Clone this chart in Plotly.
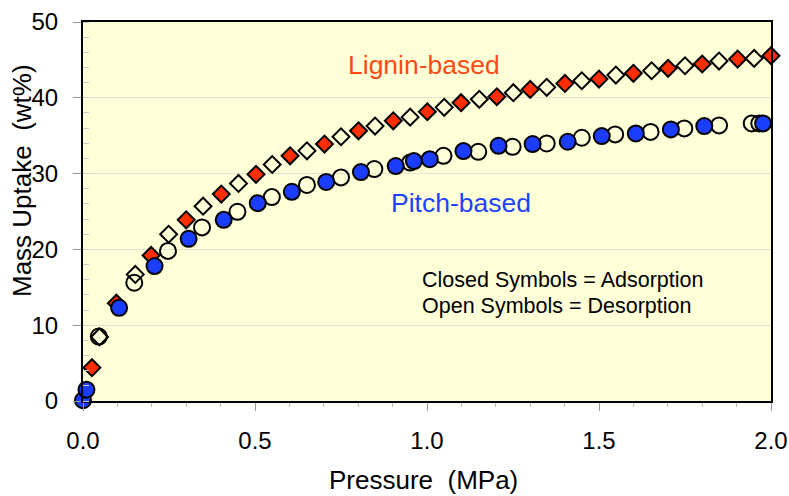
import plotly.graph_objects as go

# Lignin-based, adsorption (closed diamonds)
lig_ads_p = [0.026, 0.097, 0.198, 0.300, 0.402, 0.503, 0.602, 0.702, 0.801, 0.902, 1.001, 1.099, 1.203, 1.300, 1.401, 1.500, 1.600, 1.701, 1.800, 1.903, 2.0]
lig_ads_u = [4.4, 12.9, 19.2, 23.9, 27.3, 29.9, 32.35, 33.9, 35.65, 36.97, 38.16, 39.35, 40.14, 41.11, 41.9, 42.47, 43.23, 43.89, 44.46, 45.11, 45.55]
# Lignin-based, desorption (open diamonds)
lig_des_p = [0.048, 0.152, 0.249, 0.349, 0.452, 0.550, 0.651, 0.750, 0.849, 0.951, 1.050, 1.152, 1.251, 1.348, 1.450, 1.549, 1.653, 1.750, 1.849, 1.951]
lig_des_u = [8.45, 16.7, 22.0, 25.7, 28.7, 31.2, 33.0, 34.86, 36.27, 37.45, 38.74, 39.8, 40.67, 41.38, 42.25, 43.0, 43.57, 44.23, 44.85, 45.2]
# Pitch-based, adsorption (closed circles)
pit_ads_p = [0.0, 0.01, 0.105, 0.208, 0.307, 0.409, 0.508, 0.607, 0.707, 0.808, 0.909, 0.962, 1.008, 1.106, 1.208, 1.307, 1.409, 1.508, 1.607, 1.709, 1.806, 1.977]
pit_ads_u = [0.1, 1.5, 12.3, 17.8, 21.4, 23.9, 26.1, 27.6, 28.9, 30.2, 31.0, 31.65, 31.9, 32.97, 33.67, 33.9, 34.2, 34.95, 35.3, 35.83, 36.27, 36.62]
# Pitch-based, desorption (open circles)
pit_des_p = [0.046, 0.149, 0.247, 0.346, 0.449, 0.549, 0.651, 0.750, 0.847, 0.951, 1.048, 1.149, 1.249, 1.348, 1.450, 1.547, 1.650, 1.748, 1.849, 1.944, 1.966]
pit_des_u = [8.5, 15.6, 19.8, 22.9, 24.96, 26.9, 28.5, 29.5, 30.6, 31.45, 32.35, 32.88, 33.54, 33.98, 34.73, 35.17, 35.5, 35.96, 36.36, 36.62, 36.62]

x_ticks = [0.0, 0.5, 1.0, 1.5, 2.0]
x_tick_text = ["0.0", "0.5", "1.0", "1.5", "2.0"]
y_ticks = [0, 10, 20, 30, 40, 50]

BG = "#FFFFD8"
RED = "#FF2E00"
BLUE = "#1A3DFF"
FONT = "Liberation Sans, Arial, sans-serif"
NB = "\u00a0"

fig = go.Figure()
fig.add_trace(go.Scatter(x=lig_ads_p, y=lig_ads_u, mode="markers", cliponaxis=False,
                         marker=dict(symbol="diamond", size=13, color=RED, line=dict(color="black", width=2))))
fig.add_trace(go.Scatter(x=lig_des_p, y=lig_des_u, mode="markers", cliponaxis=False,
                         marker=dict(symbol="diamond", size=13, color="rgba(0,0,0,0)", line=dict(color="black", width=2))))
fig.add_trace(go.Scatter(x=pit_des_p, y=pit_des_u, mode="markers", cliponaxis=False,
                         marker=dict(symbol="circle", size=16, color="rgba(0,0,0,0)", line=dict(color="black", width=2))))
fig.add_trace(go.Scatter(x=pit_ads_p, y=pit_ads_u, mode="markers", cliponaxis=False,
                         marker=dict(symbol="circle", size=16, color=BLUE, line=dict(color="black", width=2))))

fig.update_layout(
    width=789, height=496,
    margin=dict(l=83, r=18, t=22, b=95),
    paper_bgcolor="white", plot_bgcolor=BG,
    showlegend=False,
    font=dict(family=FONT, color="black", size=24),
    xaxis=dict(range=[0, 2.0], tickvals=x_ticks, ticktext=x_tick_text, automargin=False,
               ticks="outside", ticklen=8, tickwidth=1, tickcolor="#999999",
               ticklabelstandoff=9,
               minor=dict(dtick=0.1, ticks="outside", ticklen=4, tickcolor="#bbbbbb", showgrid=False),
               showgrid=False, zeroline=False,
               showline=True, linecolor="black", linewidth=2, mirror=True,
               tickfont=dict(size=24)),
    yaxis=dict(range=[0, 50], tickvals=y_ticks, automargin=False,
               ticks="outside", ticklen=8, tickwidth=1, tickcolor="#999999",
               ticklabelstandoff=10,
               minor=dict(dtick=2, ticks="inside", ticklen=6, tickcolor="#cccccc", showgrid=False),
               showgrid=True, gridcolor="#E2E2D2", gridwidth=1, zeroline=False,
               showline=True, linecolor="black", linewidth=2, mirror=True,
               tickfont=dict(size=24)),
)

# axis titles placed as annotations (paper coordinates relative to plot area)
fig.add_annotation(xref="paper", yref="paper", x=0.495, y=-0.208, text="Pressure" + NB + NB + "(MPa)",
                   showarrow=False, font=dict(size=26, color="black", family=FONT),
                   xanchor="center", yanchor="middle")
fig.add_annotation(xref="paper", yref="paper", x=-0.0887, y=0.583, text="Mass" + NB + "Uptake" + NB + NB + "(wt%)",
                   showarrow=False, textangle=-90, font=dict(size=26, color="black", family=FONT),
                   xanchor="center", yanchor="middle")

fig.add_annotation(x=0.99, y=44.3, text="Lignin-based", showarrow=False,
                   font=dict(size=26.5, color="#FF4A14", family=FONT), xanchor="center", yanchor="middle")
fig.add_annotation(x=1.098, y=26.1, text="Pitch-based", showarrow=False,
                   font=dict(size=26.5, color="#2042FF", family=FONT), xanchor="center", yanchor="middle")
fig.add_annotation(x=0.981, y=(400.7 - 280) / 7.574, text="Closed Symbols = Adsorption", showarrow=False,
                   font=dict(size=21.5, color="black", family=FONT), xanchor="left", yanchor="middle")
fig.add_annotation(x=0.981, y=(400.7 - 306) / 7.574, text="Open Symbols = Desorption", showarrow=False,
                   font=dict(size=21.5, color="black", family=FONT), xanchor="left", yanchor="middle")

fig.write_html("out.html")
